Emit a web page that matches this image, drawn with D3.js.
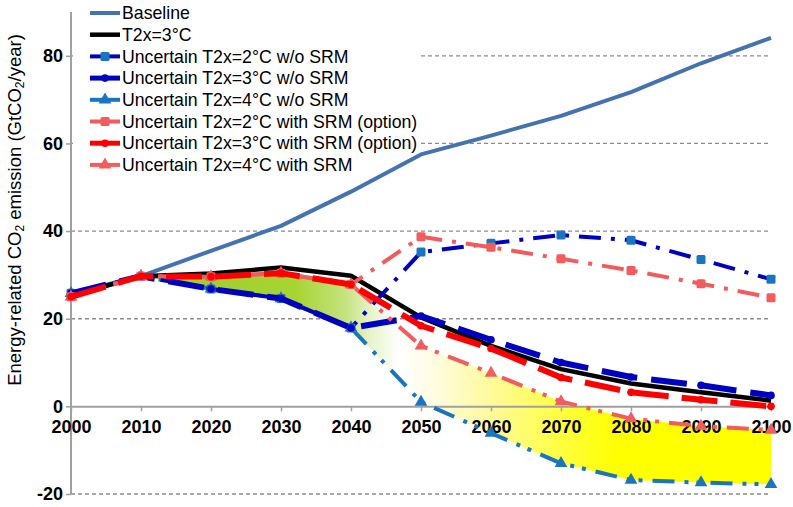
<!DOCTYPE html>
<html>
<head>
<meta charset="utf-8">
<script src="https://cdn.jsdelivr.net/npm/d3@7"></script>
<style>
  html, body { margin: 0; padding: 0; background: #fff; }
  svg { display: block; font-family: "Liberation Sans", Arial, sans-serif; }
</style>
</head>
<body>
<svg id="chart" width="793" height="507"></svg>
<script>
// ---------------- data ----------------
const years = [2000, 2010, 2020, 2030, 2040, 2050, 2060, 2070, 2080, 2090, 2100];
const yTicks = [-20, 0, 20, 40, 60, 80];
const gridValues = [-20, 20, 40, 60, 80];

const seriesNames = [
  "Baseline",
  "T2x=3°C",
  "Uncertain T2x=2°C w/o SRM",
  "Uncertain T2x=3°C w/o SRM",
  "Uncertain T2x=4°C w/o SRM",
  "Uncertain T2x=2°C with SRM (option)",
  "Uncertain T2x=3°C with SRM (option)",
  "Uncertain T2x=4°C with SRM"
];

const baseline = [25.8, 29.7, 35.5, 41.2, 49.0, 57.5, 61.8, 66.3, 71.7, 78.3, 84.1];
const t3       = [25.3, 29.7, 30.3, 31.7, 29.8, 20.3, 13.8, 8.5, 5.2, 3.2, 1.3];
const u2wo     = [25.8, 29.7, 26.8, 24.6, 17.9, 35.2, 37.2, 39.1, 37.9, 33.5, 29.0];
const u3wo     = [25.8, 29.7, 26.8, 24.6, 17.9, 20.6, 15.2, 10.0, 6.7, 4.8, 2.5];
const u4wo     = [25.8, 29.7, 26.8, 24.6, 17.9, 1.0, -6.1, -13.0, -16.8, -17.4, -17.8];
const u2srm    = [25.0, 29.7, 29.6, 30.4, 27.8, 38.7, 36.3, 33.7, 31.0, 28.0, 24.8];
const u3srm    = [25.0, 29.7, 29.6, 30.4, 27.8, 18.4, 13.2, 6.6, 3.2, 1.5, 0.0];
const u4srm    = [25.0, 29.7, 29.6, 30.4, 27.8, 13.8, 7.6, 1.1, -2.8, -4.5, -5.4];

const seriesValues = [baseline, t3, u2wo, u3wo, u4wo, u2srm, u3srm, u4srm];

// ---------------- styles ----------------
const styles = [
  { color: "#4573b0", width: 4,   dash: null,                marker: null },
  { color: "#000000", width: 4.5, dash: null,                marker: null },
  { color: "#0000c0", width: 4,   dash: "22,10,4,10",        marker: "square",   mcolor: "#1a75c0" },
  { color: "#0000c0", width: 6,   dash: "36,14",             marker: "circle",   mcolor: "#0000c0" },
  { color: "#1a75c0", width: 4,   dash: "22,10,4,8,4,10",    marker: "triangle", mcolor: "#1a75c0" },
  { color: "#f25c5c", width: 4,   dash: "22,10,4,10",        marker: "square",   mcolor: "#f25c5c" },
  { color: "#ff0000", width: 6,   dash: "36,13",             marker: "circle",   mcolor: "#ff0000" },
  { color: "#f25c5c", width: 4,   dash: "22,10,4,8,4,10",    marker: "triangle", mcolor: "#f25c5c" }
];
const drawOrder = [0, 1, 4, 2, 3, 7, 5, 6];

// ---------------- scales ----------------
const svg = d3.select("#chart");
const x = d3.scaleLinear().domain([2000, 2100]).range([71, 771]);
const y = d3.scaleLinear().domain([-20, 90]).range([494, 12]);

// ---------------- gradient fill ----------------
const defs = svg.append("defs");
const grad = defs.append("linearGradient")
  .attr("id", "bandGrad")
  .attr("gradientUnits", "userSpaceOnUse")
  .attr("x1", x(2010)).attr("x2", x(2100))
  .attr("y1", 0).attr("y2", 0);
const gStops = [
  [2010, "#9dcc2a"], [2032, "#a6d433"], [2039, "#c4e27c"], [2043, "#e8f4cc"],
  [2047, "#ffffff"], [2052, "#fffce0"], [2060, "#fffa9a"], [2070, "#ffff40"],
  [2078, "#ffff00"], [2100, "#ffff00"]
];
gStops.forEach(([yr, c]) => grad.append("stop")
  .attr("offset", (yr - 2010) / 90).attr("stop-color", c));

// ---------------- grid ----------------
svg.append("g").selectAll("line").data(gridValues).join("line")
  .attr("x1", x(2000)).attr("x2", x(2100))
  .attr("y1", d => y(d)).attr("y2", d => y(d))
  .attr("stroke", "#8c8c8c").attr("stroke-width", 1.3)
  .attr("stroke-dasharray", "4,3");

// legend background (covers grid)
svg.append("rect").attr("x", 73).attr("y", 0).attr("width", 348).attr("height", 174)
  .attr("fill", "#fff");

// band area
const bandIdx = d3.range(1, years.length);
const area = d3.area()
  .x(i => x(years[i]))
  .y0(i => y(u4wo[i]))
  .y1(i => y(u4srm[i]));
svg.append("path").datum(bandIdx).attr("d", area).attr("fill", "url(#bandGrad)");

// ---------------- axes ----------------
const fmt = d => String(d);
const yAxis = svg.append("g").attr("transform", `translate(${x(2000)},0)`)
  .call(d3.axisLeft(y).tickValues(yTicks).tickSize(5).tickSizeOuter(0).tickPadding(3)
    .tickFormat(fmt));
yAxis.select(".domain").attr("stroke", "#a0a0a0").attr("stroke-width", 2)
  .attr("d", `M0,${y(90)}V${y(-20)}`);
yAxis.selectAll(".tick line").attr("stroke", "#a0a0a0").attr("stroke-width", 1.5);
yAxis.selectAll(".tick text").attr("font-size", 18).attr("font-weight", "bold")
  .attr("fill", "#000").attr("font-family", "Liberation Sans, Arial, sans-serif");

const xAxis = svg.append("g").attr("transform", `translate(0,${y(0)})`)
  .call(d3.axisBottom(x).tickValues(years).tickSize(5).tickSizeOuter(0).tickPadding(9)
    .tickFormat(fmt));
xAxis.select(".domain").attr("stroke", "#a0a0a0").attr("stroke-width", 2);
xAxis.selectAll(".tick line").attr("stroke", "#a0a0a0").attr("stroke-width", 1.5);
xAxis.selectAll(".tick text").attr("font-size", 18).attr("font-weight", "bold")
  .attr("fill", "#000").attr("font-family", "Liberation Sans, Arial, sans-serif");

// y title
const title = svg.append("text")
  .attr("transform", "translate(21,210) rotate(-90)")
  .attr("text-anchor", "middle")
  .attr("font-size", 18.5).attr("fill", "#000");
title.append("tspan").text("Energy-related CO");
title.append("tspan").text("2").attr("font-size", 12).attr("dy", 3);
title.append("tspan").text(" emission (GtCO").attr("dy", -3);
title.append("tspan").text("2").attr("font-size", 12).attr("dy", 3);
title.append("tspan").text("/year)").attr("dy", -3);

// ---------------- series ----------------
const line = d3.line().x((d, i) => x(years[i])).y(d => y(d));

function drawMarker(g, type, cx, cy, color, scale) {
  const s = scale || 1;
  if (type === "square") {
    g.append("rect").attr("x", cx - 4.5 * s).attr("y", cy - 4.5 * s)
      .attr("width", 9 * s).attr("height", 9 * s).attr("rx", 1.5)
      .attr("fill", color);
  } else if (type === "circle") {
    g.append("circle").attr("cx", cx).attr("cy", cy).attr("r", 3.8 * s).attr("fill", color);
  } else if (type === "triangle") {
    const sym = d3.symbol().type(d3.symbolTriangle).size(70 * s * s);
    g.append("path").attr("d", sym()).attr("transform", `translate(${cx},${cy})`)
      .attr("fill", color);
  }
}

const seriesG = svg.append("g");
drawOrder.forEach(k => {
  const st = styles[k];
  const vals = seriesValues[k];
  const g = seriesG.append("g");
  g.append("path").datum(vals).attr("d", line)
    .attr("fill", "none").attr("stroke", st.color).attr("stroke-width", st.width)
    .attr("stroke-linejoin", "round")
    .attr("stroke-dasharray", st.dash);
  if (st.marker) {
    vals.forEach((v, i) => drawMarker(g, st.marker, x(years[i]), y(v), st.mcolor));
  }
});

// ---------------- legend ----------------
const leg = svg.append("g");
seriesNames.forEach((name, i) => {
  const st = styles[i];
  const cy = 13 + i * 21.7;
  const g = leg.append("g");
  g.append("line").attr("x1", 90).attr("x2", 120).attr("y1", cy).attr("y2", cy)
    .attr("stroke", st.color).attr("stroke-width", Math.min(st.width, 5));
  if (st.marker) drawMarker(g, st.marker, 105, cy, st.mcolor);
  g.append("text").attr("x", 122).attr("y", cy).attr("dy", "0.35em")
    .attr("font-size", 17.7).attr("fill", "#000").text(name);
});
</script>
</body>
</html>
